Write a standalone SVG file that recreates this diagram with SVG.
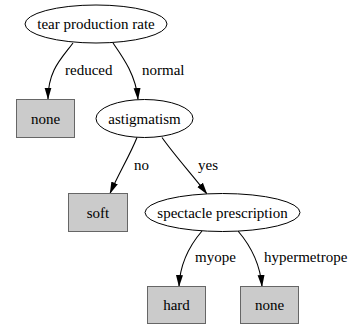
<svg xmlns="http://www.w3.org/2000/svg" width="349" height="325" viewBox="0 0 349 325">
<style>
text{font-family:"Liberation Serif","Times New Roman",serif;font-size:15px;fill:#000}
.n text{text-anchor:middle}
.el{fill:#fff;stroke:#000;stroke-width:1}
.bx{fill:#cbcbcb;stroke:#666;stroke-width:1}
.e path{fill:none;stroke:#000;stroke-width:1.1}
</style>
<defs>
<marker id="ah" markerUnits="userSpaceOnUse" markerWidth="12" markerHeight="8" viewBox="0 0 12 8" refX="11.5" refY="4" orient="auto">
<path d="M0,0.5 L12,4 L0,7.5 z" fill="#000"/>
</marker>
</defs>
<g id="edges" class="e">
<path d="M73,43 C62,58 48,70 48,99" marker-end="url(#ah)"/>
<text x="65" y="75">reduced</text>
<path d="M113,43 C122,56 136,75 138,99.5" marker-end="url(#ah)"/>
<text x="142" y="75">normal</text>
<path d="M137,137.5 C130,155 118,175 110,193.5" marker-end="url(#ah)"/>
<text x="134" y="170">no</text>
<path d="M162,137.5 C175,156 195,178 207,194" marker-end="url(#ah)"/>
<text x="198" y="170">yes</text>
<path d="M202,231 C190,245 180,262 179,286.5" marker-end="url(#ah)"/>
<text x="195" y="262">myope</text>
<path d="M238,231 C250,245 260,262 262,286.5" marker-end="url(#ah)"/>
<text x="264" y="262">hypermetrope</text>
</g>
<g id="tear" class="n">
<ellipse class="el" cx="96" cy="24" rx="71" ry="19"/>
<text x="96" y="29">tear production rate</text>
</g>
<g id="none1" class="n">
<rect class="bx" x="16.5" y="99.5" width="58" height="38"/>
<text x="45.5" y="123.5">none</text>
</g>
<g id="astigmatism" class="n">
<ellipse class="el" cx="144.5" cy="118.5" rx="48.5" ry="19"/>
<text x="144.5" y="123.5">astigmatism</text>
</g>
<g id="soft" class="n">
<rect class="bx" x="68.5" y="193.5" width="59" height="38"/>
<text x="98" y="217.5">soft</text>
</g>
<g id="spectacle" class="n">
<ellipse class="el" cx="222.5" cy="212.5" rx="77.5" ry="19"/>
<text x="222.5" y="217.5">spectacle prescription</text>
</g>
<g id="hard" class="n">
<rect class="bx" x="147.5" y="286.5" width="58" height="37"/>
<text x="176.5" y="310">hard</text>
</g>
<g id="none2" class="n">
<rect class="bx" x="240.5" y="286.5" width="58" height="37"/>
<text x="269.5" y="310">none</text>
</g>
</svg>
